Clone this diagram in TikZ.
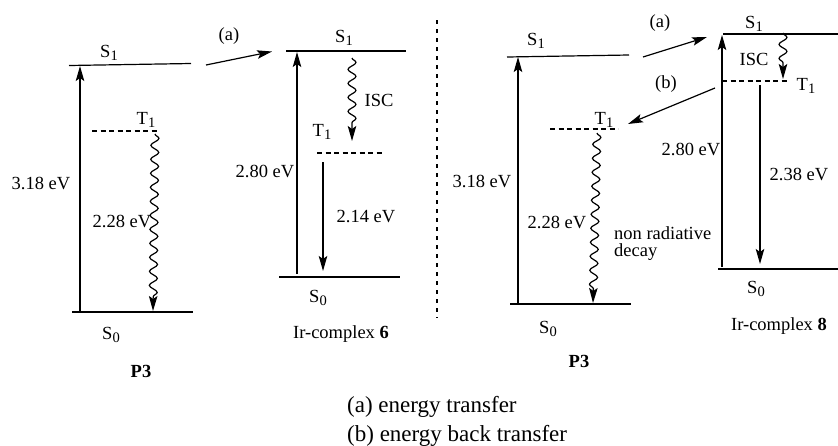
\documentclass[tikz,border=0pt]{standalone}
\usepackage{fontspec}
\setmainfont{Liberation Serif}
\usetikzlibrary{arrows.meta,decorations.pathmorphing}
\newcommand\lsub[1]{\raisebox{-0.4ex}{\fontsize{14.5}{14}\selectfont #1}}
\begin{document}
\begin{tikzpicture}[x=1pt,y=-1pt,
  lvl/.style={line width=1.2pt},
  tlvl/.style={line width=1.2pt, dash pattern=on 5pt off 3.5pt},
  sep/.style={line width=1.2pt, dash pattern=on 4pt off 5pt},
  arr/.style={line width=1.2pt, -{Stealth[length=15pt,width=8.5pt,inset=3pt]}},
  wavy/.style={arr, decorate, decoration={snake, amplitude=4pt, segment length=14pt, post length=13pt}},
  lab/.style={font=\fontsize{18.5}{18}\selectfont, anchor=base, inner sep=0pt},
  leg/.style={font=\fontsize{23}{26}\selectfont, anchor=base west, inner sep=0pt}]
\useasboundingbox (0,0) rectangle (838,445);

% ---------- left P3 ----------
\coordinate (aS1l) at (69,65.5); \coordinate (aS1r) at (191,63.5);
\coordinate (aS0l) at (72,312);  \coordinate (aS0r) at (193,312);
\coordinate (aT1l) at (92,131);  \coordinate (aT1r) at (158,131);
\coordinate (aUp0) at (80,312);  \coordinate (aUp1) at (80,66);
\coordinate (aW0) at (155,134);  \coordinate (aW1) at (153,311);
\draw[lvl] (aS1l) -- (aS1r);
\draw[lvl] (aS0l) -- (aS0r);
\draw[tlvl] (aT1l) -- (aT1r);
\draw[arr] (aUp0) -- (aUp1);
\draw[wavy] (aW0) -- (aW1);
\node[lab] (aS1t) at (109,57) {S\lsub{1}};
\node[lab] (aT1t) at (146,124) {T\lsub{1}};
\node[lab] (aE1) at (41,189) {3.18 eV};
\node[lab] (aE2) at (122,227) {2.28 eV};
\node[lab] (aS0t) at (111,339) {S\lsub{0}};
\node[lab] (aP3) at (141,377) {\textbf{P3}};

% transfer (a) left
\coordinate (ta0) at (206,65); \coordinate (ta1) at (272,51.5);
\draw[arr] (ta0) -- (ta1);
\node[lab] (taT) at (229,40) {(a)};

% ---------- Ir-complex 6 ----------
\coordinate (bS1l) at (286,51);  \coordinate (bS1r) at (406,51);
\coordinate (bS0l) at (279,277); \coordinate (bS0r) at (400,277);
\coordinate (bT1l) at (317,153); \coordinate (bT1r) at (383,153);
\coordinate (bUp0) at (297,274); \coordinate (bUp1) at (297,52);
\coordinate (bW0) at (352,58);   \coordinate (bW1) at (352,141);
\coordinate (bDn0) at (323,162); \coordinate (bDn1) at (323,271);
\draw[lvl] (bS1l) -- (bS1r);
\draw[lvl] (bS0l) -- (bS0r);
\draw[tlvl] (bT1l) -- (bT1r);
\draw[arr] (bUp0) -- (bUp1);
\draw[wavy] (bW0) -- (bW1);
\draw[arr] (bDn0) -- (bDn1);
\node[lab] (bS1t) at (344,42) {S\lsub{1}};
\node[lab] (bISC) at (379,106) {ISC};
\node[lab] (bT1t) at (322,136) {T\lsub{1}};
\node[lab] (bE1) at (265,177) {2.80 eV};
\node[lab] (bE2) at (366,222) {2.14 eV};
\node[lab] (bS0t) at (318,302) {S\lsub{0}};
\node[lab] (bName) at (341,338) {Ir-complex \textbf{6}};

% separator
\coordinate (sep0) at (437,20); \coordinate (sep1) at (437,318);
\draw[sep] (sep0) -- (sep1);

% ---------- right P3 ----------
\coordinate (cS1l) at (507,57);  \coordinate (cS1r) at (629,55);
\coordinate (cS0l) at (510,304); \coordinate (cS0r) at (631,304);
\coordinate (cT1l) at (550,129); \coordinate (cT1r) at (618,129);
\coordinate (cUp0) at (518,304); \coordinate (cUp1) at (518,57);
\coordinate (cW0) at (597,133);  \coordinate (cW1) at (593,303);
\draw[lvl] (cS1l) -- (cS1r);
\draw[lvl] (cS0l) -- (cS0r);
\draw[tlvl] (cT1l) -- (cT1r);
\draw[arr] (cUp0) -- (cUp1);
\draw[wavy] (cW0) -- (cW1);
\node[lab] (cS1t) at (536,45) {S\lsub{1}};
\node[lab] (cT1t) at (604,124) {T\lsub{1}};
\node[lab] (cE1) at (482,187) {3.18 eV};
\node[lab] (cE2) at (557,228) {2.28 eV};
\node[lab, anchor=base west, align=left, font=\fontsize{18.5}{17}\selectfont] (cNR) at (614,256) {non radiative\\decay};
\node[lab] (cS0t) at (548,333) {S\lsub{0}};
\node[lab] (cP3) at (579,367) {\textbf{P3}};

% transfers (a), (b) right
\coordinate (ra0) at (643,57);  \coordinate (ra1) at (707,37);
\coordinate (rb0) at (715,88);  \coordinate (rb1) at (628,124);
\draw[arr] (ra0) -- (ra1);
\draw[arr] (rb0) -- (rb1);
\node[lab] (raT) at (660,27) {(a)};
\node[lab] (rbT) at (666,88) {(b)};

% ---------- Ir-complex 8 ----------
\coordinate (dS1l) at (723,34);  \coordinate (dS1r) at (838,34);
\coordinate (dS0l) at (718,269); \coordinate (dS0r) at (838,269);
\coordinate (dT1l) at (722,81);  \coordinate (dT1r) at (787,81);
\coordinate (dUp0) at (722,267); \coordinate (dUp1) at (722,35);
\coordinate (dW0) at (783,33);   \coordinate (dW1) at (783,79);
\coordinate (dDn0) at (760,85);  \coordinate (dDn1) at (760,264);
\draw[lvl] (dS1l) -- (dS1r);
\draw[lvl] (dS0l) -- (dS0r);
\draw[tlvl] (dT1l) -- (dT1r);
\draw[arr] (dUp0) -- (dUp1);
\draw[wavy] (dW0) -- (dW1);
\draw[arr] (dDn0) -- (dDn1);
\node[lab] (dS1t) at (754,28) {S\lsub{1}};
\node[lab] (dISC) at (754,65) {ISC};
\node[lab] (dT1t) at (806,90) {T\lsub{1}};
\node[lab] (dE1) at (691,155) {2.80 eV};
\node[lab] (dE2) at (799,180) {2.38 eV};
\node[lab] (dS0t) at (756,293) {S\lsub{0}};
\node[lab] (dName) at (779,330) {Ir-complex \textbf{8}};

% legend
\node[leg] (legA) at (347,412) {(a) energy transfer};
\node[leg] (legB) at (347,441) {(b) energy back transfer};
\end{tikzpicture}
\end{document}
